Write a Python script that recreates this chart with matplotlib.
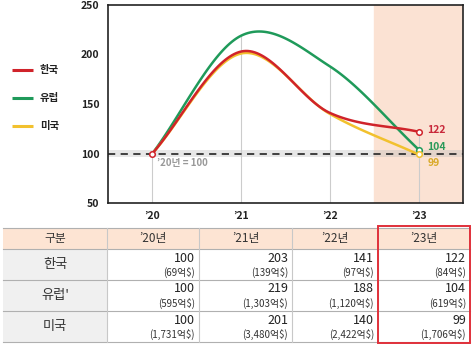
import numpy as np
import matplotlib
matplotlib.use("Agg")
import matplotlib.pyplot as plt
from matplotlib.patches import Rectangle

plt.rcParams['font.family'] = ['Noto Sans CJK KR', 'DejaVu Sans']

years = ["’20", "’21", "’22", "’23"]
series_names = ["한국", "유럽", "미국"]
korea = [100, 203, 141, 122]
europe = [100, 219, 188, 104]
usa = [100, 201, 140, 99]
korea_amt = ["(69억$)", "(139억$)", "(97억$)", "(84억$)"]
europe_amt = ["(595억$)", "(1,303억$)", "(1,120억$)", "(619억$)"]
usa_amt = ["(1,731억$)", "(3,480억$)", "(2,422억$)", "(1,706억$)"]
header = ["구분", "’20년", "’21년", "’22년", "’23년"]
row_labels = ["한국", "유럽'", "미국"]
yticks = [50, 100, 150, 200, 250]

colors = ["#d0232a", "#1f9a5a", "#f2c12e"]
label_colors = ["#c8283a", "#2a9a5a", "#d9aa2a"]


def catmull(xs, ys, n=40):
    xs = np.asarray(xs, float)
    ys = np.asarray(ys, float)
    px = np.concatenate([[2 * xs[0] - xs[1]], xs, [2 * xs[-1] - xs[-2]]])
    py = np.concatenate([[2 * ys[0] - ys[1]], ys, [2 * ys[-1] - ys[-2]]])
    ox, oy = [], []
    for i in range(1, len(px) - 2):
        t = np.linspace(0, 1, n)
        for P, out in ((px, ox), (py, oy)):
            p0, p1, p2, p3 = P[i - 1], P[i], P[i + 1], P[i + 2]
            out.extend(0.5 * ((2 * p1) + (-p0 + p2) * t
                              + (2 * p0 - 5 * p1 + 4 * p2 - p3) * t ** 2
                              + (-p0 + 3 * p1 - 3 * p2 + p3) * t ** 3))
    return np.array(ox), np.array(oy)


fig = plt.figure(figsize=(4.74, 3.46), dpi=100)
W, H = 474, 346
ax = fig.add_axes([108 / W, 1 - 203 / H, (463 - 108) / W, (203 - 5) / H])
x = np.arange(len(years))
data = [korea, europe, usa]

ax.set_xlim(-0.5, 3.5)
ax.set_ylim(50, 250)
ax.axvspan(2.5, 3.5, color="#fbe2d3", zorder=0)
ax.axhspan(96.5, 103.5, color="#bbbbbb", alpha=0.35, lw=0, zorder=1)
ax.axhline(100, color="#333333", lw=1.3, ls=(0, (4, 3)), zorder=2)
for i in range(len(years)):
    top = max(d[i] for d in data)
    ax.vlines(i, 50, top, color="#cccccc", lw=0.8, zorder=1)

for d, c in zip([europe, usa, korea], [colors[1], colors[2], colors[0]]):
    sx, sy = catmull(x, d)
    ax.plot(sx, sy, color=c, lw=1.8, zorder=3, solid_capstyle="round")
for d, c in zip([europe, usa, korea], [colors[1], colors[2], colors[0]]):
    ax.plot([x[-1]], [d[-1]], "o", ms=4, mfc="white", mec=c, mew=1.1, zorder=4)
ax.plot([0], [korea[0]], "o", ms=4, mfc="white", mec=colors[0], mew=1.1, zorder=4)

ax.text(3.1, korea[-1] + 2, str(korea[-1]), color=label_colors[0], fontsize=7.5,
        fontweight="bold", va="center", ha="left")
ax.text(3.1, europe[-1] + 3, str(europe[-1]), color=label_colors[1], fontsize=7.5,
        fontweight="bold", va="center", ha="left")
ax.text(3.1, usa[-1] - 9, str(usa[-1]), color=label_colors[2], fontsize=7.5,
        fontweight="bold", va="center", ha="left")
ax.text(0.05, 90, "’20년 = 100", color="#999999", fontsize=7, fontweight="bold",
        va="center", ha="left")

ax.set_xticks(x)
ax.set_xticklabels(years)
ax.set_yticks(yticks)
ax.tick_params(length=0, labelsize=7.5, colors="#222222", pad=6)
for lab in ax.get_xticklabels() + ax.get_yticklabels():
    lab.set_fontweight("bold")
for s in ax.spines.values():
    s.set_color("#222222")
    s.set_linewidth(1.2)

# overlay for legend and table (pixel coordinates)
ov = fig.add_axes([0, 0, 1, 1])
ov.set_xlim(0, W)
ov.set_ylim(H, 0)
ov.axis("off")

for i, (name, c) in enumerate(zip(series_names, colors)):
    yy = 70 + i * 28
    ov.plot([12, 33], [yy, yy], color=c, lw=2.2, solid_capstyle="butt")
    ov.text(40, yy, name, fontsize=7.5, fontweight="bold", va="center", ha="left",
            color="#222222")

cols = [3, 107, 199, 292, 378, 470]
rows = [228, 249, 280, 311, 342]
ov.add_patch(Rectangle((cols[0], rows[0]), cols[-1] - cols[0], rows[1] - rows[0],
                       facecolor="#fde4d3", edgecolor="none"))
for r in range(3):
    ov.add_patch(Rectangle((cols[0], rows[r + 1]), cols[1] - cols[0],
                           rows[r + 2] - rows[r + 1], facecolor="#f0f0f0",
                           edgecolor="none"))
for yy in rows:
    ov.plot([cols[0], cols[-1]], [yy, yy], color="#b0b0b0", lw=0.8)
for xx in cols[1:-1]:
    ov.plot([xx, xx], [rows[0], rows[-1]], color="#c8c8c8", lw=0.8)

for j, h in enumerate(header):
    ov.text((cols[j] + cols[j + 1]) / 2, (rows[0] + rows[1]) / 2, h, fontsize=8.5,
            ha="center", va="center", color="#333333")
vals = [korea, europe, usa]
amts = [korea_amt, europe_amt, usa_amt]
for r in range(3):
    top = rows[r + 1]
    ov.text((cols[0] + cols[1]) / 2, (top + rows[r + 2]) / 2, row_labels[r],
            fontsize=9.5, ha="center", va="center", color="#333333")
    for j in range(4):
        xr = cols[j + 2] - 4
        ov.text(xr, top + 9, str(vals[r][j]), fontsize=9, ha="right",
                va="center", color="#222222")
        ov.text(xr, top + 23, amts[r][j], fontsize=7, ha="right", va="center",
                color="#333333")

ov.add_patch(Rectangle((378, 226), 92, 117, facecolor="none", edgecolor="#e0303a",
                       lw=1.4, zorder=5))

fig.savefig("out.png", dpi=100)
